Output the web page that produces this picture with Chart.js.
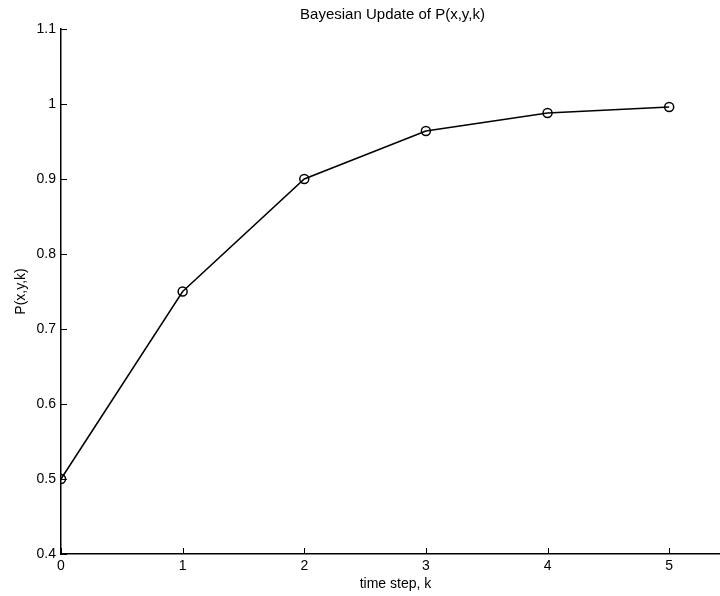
<!DOCTYPE html>
<html>
<head>
<meta charset="utf-8">
<script src="https://cdn.jsdelivr.net/npm/chart.js@4/dist/chart.umd.min.js"></script>
<style>
  html, body { margin: 0; padding: 0; background: #fff; }
  #wrap { width: 720px; height: 596px; overflow: hidden; position: relative; }
  canvas { display: block; }
</style>
</head>
<body>
<div id="wrap"><canvas id="c" width="740" height="596"></canvas></div>
<script>
// Posterior probability after each time step
const timeSteps = [0, 1, 2, 3, 4, 5];
const probability = [0.5, 0.75, 0.9, 0.964, 0.988, 0.996];
const titleText = 'Bayesian Update of P(x,y,k)';
const xLabel = 'time step, k';
const yLabel = 'P(x,y,k)';

const FONT = '"Liberation Sans", Arial, Helvetica, sans-serif';

// Inward-pointing tick marks, drawn from the scales' own tick positions
const inwardTicks = {
  id: 'inwardTicks',
  afterDatasetsDraw(chart) {
    const ctx = chart.ctx;
    const { x, y } = chart.scales;
    const area = chart.chartArea;
    const len = 6;
    ctx.save();
    ctx.strokeStyle = '#000';
    ctx.lineWidth = 1;
    ctx.beginPath();
    y.ticks.forEach(t => {
      const py = Math.round(y.getPixelForValue(t.value)) + 0.5;
      ctx.moveTo(area.left, py);
      ctx.lineTo(area.left + len, py);
    });
    x.ticks.forEach(t => {
      const px = Math.round(x.getPixelForValue(t.value)) + 0.5;
      ctx.moveTo(px, area.bottom);
      ctx.lineTo(px, area.bottom - len);
    });
    ctx.stroke();
    ctx.restore();
  }
};

// Title centred over the plotting area
const plotTitle = {
  id: 'plotTitle',
  afterDraw(chart) {
    const ctx = chart.ctx;
    const area = chart.chartArea;
    ctx.save();
    ctx.fillStyle = '#000';
    ctx.font = '15px ' + FONT;
    ctx.textAlign = 'center';
    ctx.textBaseline = 'middle';
    ctx.fillText(titleText, (area.left + area.right) / 2 - 3, 15);
    ctx.restore();
  }
};

new Chart(document.getElementById('c'), {
  type: 'line',
  data: {
    datasets: [{
      data: timeSteps.map((k, i) => ({ x: k, y: probability[i] })),
      borderColor: '#000',
      borderWidth: 1.5,
      backgroundColor: 'rgba(0,0,0,0)',
      pointRadius: 4.5,
      pointBorderWidth: 1.5,
      pointBorderColor: '#000',
      pointBackgroundColor: 'rgba(0,0,0,0)',
      tension: 0,
      fill: false
    }]
  },
  options: {
    responsive: false,
    devicePixelRatio: 1,
    animation: false,
    layout: { padding: { left: 0, right: 10, top: 29, bottom: 0 } },
    plugins: {
      legend: { display: false },
      title: { display: false },
      tooltip: { enabled: false }
    },
    scales: {
      x: {
        type: 'linear',
        min: 0,
        max: 5.5,
        afterFit(s) { s.height = 42; },
        grid: { display: false, drawTicks: false },
        border: { display: true, color: '#000', width: 1.5 },
        ticks: {
          stepSize: 1,
          padding: 4,
          color: '#000',
          font: { family: FONT, size: 14 },
          callback: v => (Number.isInteger(v) ? String(v) : '')
        },
        title: {
          display: true,
          text: xLabel,
          color: '#000',
          font: { family: FONT, size: 14 },
          padding: { top: 0, bottom: 3 }
        }
      },
      y: {
        type: 'linear',
        min: 0.4,
        max: 1.1,
        afterFit(s) { s.width = 61; },
        grid: { display: false, drawTicks: false },
        border: { display: true, color: '#000', width: 1.5 },
        ticks: {
          stepSize: 0.1,
          padding: 5,
          color: '#000',
          font: { family: FONT, size: 14 },
          callback: v => String(+v.toFixed(1))
        },
        title: {
          display: true,
          text: yLabel,
          color: '#000',
          font: { family: FONT, size: 14 },
          padding: { top: 13, bottom: 0 }
        }
      }
    }
  },
  plugins: [inwardTicks, plotTitle]
});
</script>
</body>
</html>
